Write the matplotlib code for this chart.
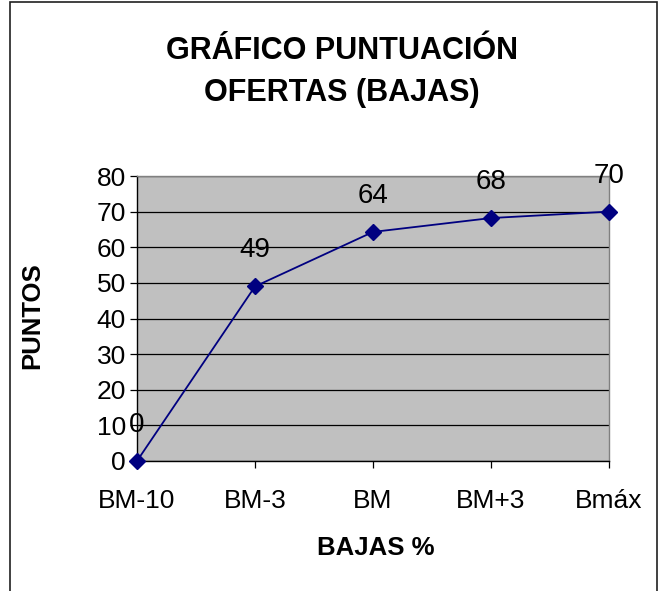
import matplotlib
matplotlib.use("Agg")
import matplotlib.pyplot as plt
from matplotlib.patches import Rectangle

categorias = ["BM-10", "BM-3", "BM", "BM+3", "Bmáx"]
puntos = [0, 49, 64.3, 68.2, 70]
etiquetas = ["0", "49", "64", "68", "70"]
y_ticks = [0, 10, 20, 30, 40, 50, 60, 70, 80]

plt.rcParams['font.family'] = ['Liberation Sans', 'DejaVu Sans']

fig = plt.figure(figsize=(6.61, 5.91), dpi=100)
W, H = 661.0, 591.0

# outer chart frame (bottom is cut off in the original)
fig.patches.append(Rectangle((10 / W, -0.05), (657 - 10) / W, 1.05 - 2 / H,
                             transform=fig.transFigure, fill=False,
                             edgecolor="#202020", linewidth=1.2))

ax = fig.add_axes([137 / W, 1 - 461 / H, (609 - 137) / W, (461 - 176) / H])
ax.set_facecolor("#C0C0C0")

x = list(range(len(categorias)))
ax.plot(x, puntos, color="#000080", linewidth=1.3, marker="D",
        markersize=8.5, markerfacecolor="#000080", markeredgecolor="#000080",
        zorder=5, clip_on=False)

for xi, yi, lab in zip(x, puntos, etiquetas):
    ax.annotate(lab, (xi, yi), xytext=(0, 26), textcoords="offset points",
                ha="center", va="center", fontsize=20, color="black")

ax.set_xlim(0, len(categorias) - 1)
ax.set_ylim(0, 80)
ax.set_yticks(y_ticks)
ax.set_xticks(x)
ax.set_xticklabels(categorias)
ax.yaxis.grid(True, color="black", linewidth=0.9)
ax.set_axisbelow(True)

ax.tick_params(axis="both", labelsize=19, direction="out", length=5,
               width=0.9, color="black")
ax.tick_params(axis="x", pad=15)
ax.tick_params(axis="y", pad=3)

ax.spines["left"].set_color("black")
ax.spines["bottom"].set_color("black")
ax.spines["top"].set_color("#808080")
ax.spines["right"].set_color("#808080")
for s in ax.spines.values():
    s.set_linewidth(1.0)

fig.text(342 / W, 1 - 59 / H, "GRÁFICO PUNTUACIÓN", ha="center", va="baseline",
         fontsize=22, fontweight="bold")
fig.text(342 / W, 1 - 101 / H, "OFERTAS (BAJAS)", ha="center", va="baseline",
         fontsize=22, fontweight="bold")
fig.text(376 / W, 1 - 548 / H, "BAJAS %", ha="center", va="center",
         fontsize=18.5, fontweight="bold")
fig.text(32 / W, 1 - 316 / H, "PUNTOS", ha="center", va="center",
         fontsize=18.5, fontweight="bold", rotation=90)

fig.savefig("out.png", dpi=100, facecolor="white")
